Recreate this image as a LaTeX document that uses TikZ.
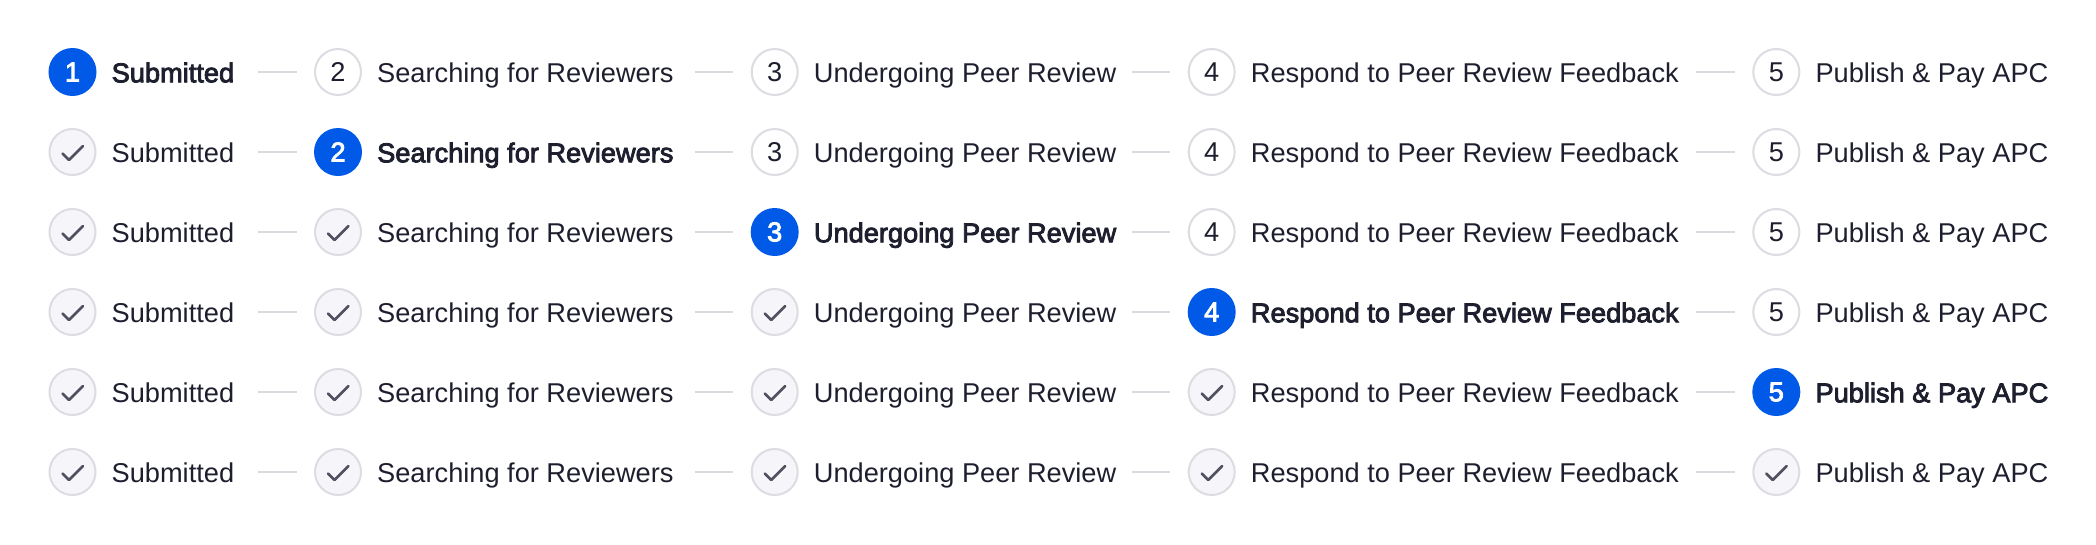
\documentclass[tikz,border=0pt]{standalone}
\usepackage{fontspec}
\setmainfont{Liberation Sans}
\newfontfamily\activefont[FakeBold=3]{Liberation Sans}
\usetikzlibrary{calc}
\definecolor{blueact}{RGB}{0,90,231}
\definecolor{ink}{RGB}{30,31,46}
\definecolor{ringgray}{RGB}{220,220,226}
\definecolor{donefill}{RGB}{246,246,250}
\definecolor{checkgray}{RGB}{80,80,96}
\definecolor{linegray}{RGB}{218,218,224}
\tikzset{
  stepcircle/.style={circle, minimum size=46pt, inner sep=0pt, line width=2pt,
    font=\fontsize{27.2}{32}\selectfont},
  stepdone/.style={stepcircle, draw=ringgray, fill=donefill},
  steppending/.style={stepcircle, draw=ringgray, fill=white, text=ink},
  stepactive/.style={stepcircle, draw=blueact, fill=blueact, text=white,
    font=\fontsize{27.2}{32}\activefont},
  labelnormal/.style={anchor=base west, inner sep=0pt, text=ink,
    font=\fontsize{27.2}{32}\selectfont},
  labelactive/.style={anchor=base west, inner sep=0pt, text=ink,
    font=\fontsize{27.2}{32}\activefont},
  checkmark/.style={draw=checkgray, line width=2.6pt, line cap=round, line join=round},
  connector/.style={draw=linegray, line width=2pt}
}
\begin{document}
\begin{tikzpicture}[x=1pt,y=-1pt]
\useasboundingbox[fill=white] (0,0) rectangle (2096,544);
\foreach \r in {1,...,6}{
  \pgfmathsetmacro{\cy}{72+80*(\r-1)}
  \foreach \k/\cx/\lab in {1/72.5/Submitted,
      2/338/Searching for Reviewers,
      3/774.7/Undergoing Peer Review,
      4/1211.7/Respond to Peer Review Feedback,
      5/1776.3/Publish \& Pay APC}{
    \ifnum\k<\r
      \node[stepdone] (c\r-\k) at (\cx,\cy) {};
      \draw[checkmark] ($(c\r-\k.center)+(-10,1.5)$) -- ++(6.5,6.5) -- ++(14,-14);
      \node[labelnormal] (l\r-\k) at (\cx+39,\cy+10.3) {\lab};
    \else\ifnum\k=\r
      \node[stepactive] (c\r-\k) at (\cx,\cy) {\k};
      \node[labelactive] (l\r-\k) at (\cx+39,\cy+10.3) {\lab};
    \else
      \node[steppending] (c\r-\k) at (\cx,\cy) {\k};
      \node[labelnormal] (l\r-\k) at (\cx+39,\cy+10.3) {\lab};
    \fi\fi
    \ifnum\k>1
      \draw[connector] ([xshift=-56pt]c\r-\k.west) -- ([xshift=-17.5pt]c\r-\k.west);
    \fi
  }
}
\end{tikzpicture}
\end{document}
